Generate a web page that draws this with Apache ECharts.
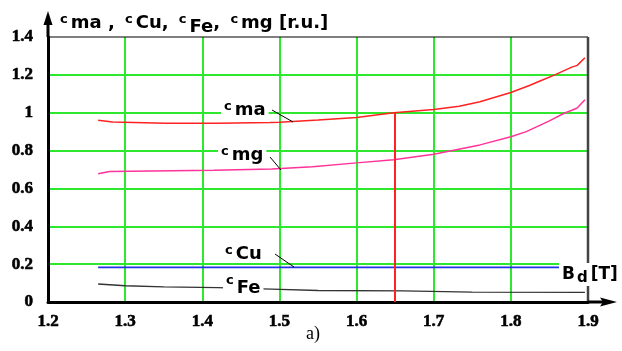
<!DOCTYPE html>
<html><head><meta charset="utf-8">
<script src="https://cdn.jsdelivr.net/npm/echarts@6/dist/echarts.min.js"></script>
<style>html,body{margin:0;padding:0;background:#fff}#c{width:622px;height:351px}</style>
</head><body><div id="c"></div>
<script>
// ---- data ----
const bMin = 1.2, bMax = 1.9, bStep = 0.1;
const cMin = 0, cMax = 1.4, cStep = 0.2;

const cmaB   = [1.265,1.284,1.352,1.42,1.488,1.50,1.55,1.60,1.648,1.70,1.733,1.76,1.80,1.824,1.837,1.857,1.879,1.886,1.896];
const cmaVal = [0.96,0.951,0.944,0.944,0.948,0.95,0.962,0.975,1.0,1.017,1.034,1.058,1.107,1.144,1.166,1.2,1.241,1.25,1.29];

const cmgB   = [1.265,1.28,1.415,1.49,1.543,1.60,1.648,1.70,1.76,1.80,1.82,1.85,1.869,1.879,1.886,1.896];
const cmgVal = [0.678,0.689,0.696,0.703,0.714,0.735,0.752,0.78,0.83,0.873,0.9,0.957,0.997,1.013,1.025,1.068];

const cCuB   = [1.265,1.863];
const cCuVal = [0.183,0.183];

const cFeB   = [1.265,1.30,1.35,1.42,1.49,1.55,1.66,1.75,1.896];
const cFeVal = [0.095,0.086,0.08,0.076,0.068,0.061,0.059,0.052,0.051];

const markB = 1.65, markVal = 1.0;

const pairs = (xs, ys) => xs.map((x, i) => [x, ys[i]]);

const GREEN = '#2ee82e';
const chart = echarts.init(document.getElementById('c'));

const SANS = '"DejaVu Sans", Verdana, sans-serif';
const SERIF = '"Liberation Serif", "Times New Roman", serif';

const tickLabel = { color: '#000', fontFamily: SERIF, fontWeight: 'bold', fontSize: 17,
                    textBorderColor: '#000', textBorderWidth: 0.6 };

chart.setOption({
  animation: false,
  backgroundColor: '#fff',
  grid: { left: 48, right: 34, top: 37, bottom: 49, containLabel: false },
  xAxis: {
    type: 'value', min: bMin, max: bMax, interval: bStep,
    axisLine: { show: true, lineStyle: { color: '#000', width: 3 } },
    axisTick: { show: false },
    axisLabel: Object.assign({}, tickLabel, { margin: 11, formatter: v => v.toFixed(1) }),
    splitLine: { show: true, showMinLine: false, showMaxLine: false, lineStyle: { color: GREEN, width: 2 } }
  },
  yAxis: {
    type: 'value', min: cMin, max: cMax, interval: cStep,
    axisLine: { show: true, lineStyle: { color: '#000', width: 3 } },
    axisTick: { show: false },
    axisLabel: Object.assign({}, tickLabel, { margin: 15, formatter: v => String(Math.round(v * 10) / 10) }),
    splitLine: { show: true, showMinLine: false, showMaxLine: false, lineStyle: { color: GREEN, width: 2 } }
  },
  series: [
    { name: 'cma', type: 'line', data: pairs(cmaB, cmaVal), showSymbol: false, symbol: 'none',
      lineStyle: { color: '#ff2222', width: 1.5 }, z: 3,
      markLine: { silent: true, symbol: 'none', label: { show: false },
        lineStyle: { color: '#ff2222', width: 2, type: 'solid' },
        data: [[{ coord: [markB, 0] }, { coord: [markB, markVal] }]] } },
    { name: 'cmg', type: 'line', data: pairs(cmgB, cmgVal), showSymbol: false, symbol: 'none',
      lineStyle: { color: '#ff3399', width: 1.5 }, z: 3 },
    { name: 'cCu', type: 'line', data: pairs(cCuB, cCuVal), showSymbol: false, symbol: 'none',
      lineStyle: { color: '#1f35e6', width: 1.6 }, z: 3 },
    { name: 'cFe', type: 'line', data: pairs(cFeB, cFeVal), showSymbol: false, symbol: 'none',
      lineStyle: { color: '#333', width: 1.4 }, z: 3 }
  ]
});

// frame lines and arrowheads, placed from the axis scales
const p = (b, c) => chart.convertToPixel({ gridIndex: 0 }, [b, c]);
const tl = p(bMin, cMax), tr = p(bMax, cMax), br = p(bMax, cMin), bl = p(bMin, cMin);

const rich = {
  c: { fontFamily: SANS, fontWeight: 'bold', fontSize: 13, padding: [0, 3, 7, 0], color: '#000' },
  m: { fontFamily: SANS, fontWeight: 'bold', fontSize: 18, color: '#000' },
  f: { fontFamily: SANS, fontWeight: 'bold', fontSize: 18, padding: [7, 0, 0, 0], color: '#000' },
  p: { fontFamily: SANS, fontWeight: 'bold', fontSize: 18, color: '#000', padding: [0, 4, 0, 0] },
  B: { fontFamily: SANS, fontWeight: 'bold', fontSize: 17, color: '#000' },
  d: { fontFamily: SANS, fontWeight: 'bold', fontSize: 15, padding: [8, 3, 0, 2], color: '#000' }
};

function label(x, y, text, bg) {
  return { type: 'text', x, y, z: 60,
    style: { text, rich, fill: '#000', align: 'left', verticalAlign: 'top',
             textAlign: 'left', textVerticalAlign: 'top',
             backgroundColor: bg ? '#fff' : null, padding: bg ? [0, 3, 0, 3] : 0 } };
}
function seg(x1, y1, x2, y2, color, w) {
  return { type: 'line', z: 55, shape: { x1, y1, x2, y2 }, style: { stroke: color, lineWidth: w } };
}

chart.setOption({
  graphic: [
    seg(tl[0], tl[1], tr[0], tr[1], '#000', 1.2),
    seg(tr[0], tr[1], br[0], br[1] - 1, '#444', 2.5),
    // y axis extension with arrow
    seg(bl[0], tl[1], bl[0], tl[1] - 18, '#000', 3),
    { type: 'polygon', z: 56, shape: { points: [[bl[0] - 4.5, tl[1] - 12], [bl[0], tl[1] - 26], [bl[0] + 4.5, tl[1] - 12]] }, style: { fill: '#000' } },
    // x axis extension with arrow
    seg(br[0], br[1], br[0] + 16, br[1], '#000', 3),
    { type: 'polygon', z: 56, shape: { points: [[br[0] + 12, br[1] - 4.5], [br[0] + 29, br[1]], [br[0] + 12, br[1] + 4.5], [br[0] + 15, br[1]]] }, style: { fill: '#000' } },
    // title
    label(60, 11, '{c|c}{m|ma}{p| , }{c|c}{m|Cu}{p|, }{c|c}{f|Fe}{p|, }{c|c}{m|mg}{p| [r.u.]}', false),
    // curve annotations
    label(221, 100, '{c|c}{m|ma}', true),
    seg(272, 110, 293, 122, '#000', 1),
    label(218, 145, '{c|c}{m|mg}', true),
    seg(270, 157, 281, 170, '#000', 1),
    label(225, 244, '{c|c}{m|Cu}', false),
    seg(275, 254, 294, 267, '#000', 1),
    label(223, 272, '{c|c}{f|Fe}', true),
    // axis unit label
    label(559, 263, '{B|B}{d|d}{B|[T]}', true),
    // caption
    { type: 'text', x: 313, y: 334, z: 60,
      style: { text: 'a)', fill: '#000', font: '18px ' + SERIF, align: 'center', verticalAlign: 'middle',
               textAlign: 'center', textVerticalAlign: 'middle' } }
  ]
});
</script>
</body></html>
